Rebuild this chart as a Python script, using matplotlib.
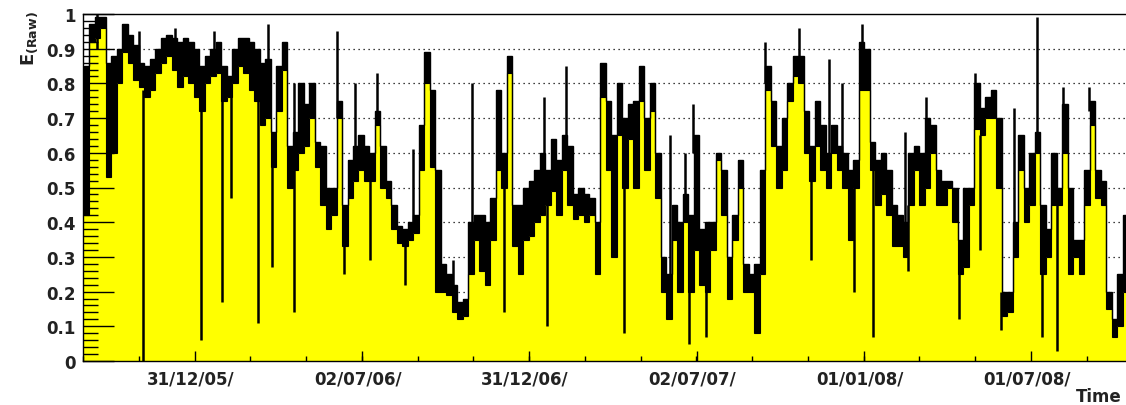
import datetime
import numpy as np
import matplotlib
matplotlib.use('Agg')
import matplotlib.pyplot as plt
import matplotlib.dates as mdates
import matplotlib.transforms as mtransforms

plt.rcParams['font.family'] = ['DejaVu Sans']
plt.rcParams['mathtext.fontset'] = 'dejavusans'

# 6-day bins starting 2005-09-01
start_date = datetime.date(2005, 9, 1)
bin_days = 6

# lower envelope of each bin (top of the yellow fill)
low = [
    0.42, 0.92, 0.93, 0.96, 0.53, 0.60, 0.80, 0.89, 0.86, 0.81,
    0.79, 0.76, 0.78, 0.83, 0.86, 0.88, 0.84, 0.79, 0.82, 0.80,
    0.76, 0.72, 0.80, 0.82, 0.83, 0.75, 0.76, 0.80, 0.85, 0.83,
    0.78, 0.75, 0.68, 0.70, 0.56, 0.72, 0.84, 0.50, 0.55, 0.60,
    0.62, 0.70, 0.56, 0.45, 0.38, 0.42, 0.70, 0.33, 0.47, 0.52,
    0.55, 0.52, 0.52, 0.68, 0.50, 0.47, 0.38, 0.34, 0.33, 0.35,
    0.37, 0.55, 0.80, 0.56, 0.20, 0.20, 0.19, 0.14, 0.12, 0.13,
    0.25, 0.35, 0.26, 0.22, 0.35, 0.55, 0.50, 0.83, 0.33, 0.25,
    0.35, 0.36, 0.40, 0.42, 0.45, 0.49, 0.42, 0.55, 0.45, 0.41,
    0.42, 0.40, 0.42, 0.25, 0.76, 0.55, 0.30, 0.65, 0.50, 0.64,
    0.50, 0.75, 0.55, 0.72, 0.47, 0.20, 0.12, 0.35, 0.20, 0.40,
    0.20, 0.32, 0.22, 0.20, 0.32, 0.58, 0.42, 0.18, 0.35, 0.50,
    0.20, 0.20, 0.08, 0.25, 0.78, 0.62, 0.50, 0.55, 0.75, 0.82,
    0.80, 0.60, 0.52, 0.62, 0.55, 0.50, 0.60, 0.55, 0.50, 0.35,
    0.50, 0.78, 0.78, 0.55, 0.45, 0.48, 0.42, 0.33, 0.33, 0.30,
    0.45, 0.55, 0.45, 0.50, 0.60, 0.45, 0.45, 0.50, 0.40, 0.25,
    0.27, 0.45, 0.67, 0.65, 0.70, 0.70, 0.50, 0.13, 0.14, 0.30,
    0.55, 0.40, 0.45, 0.60, 0.25, 0.30, 0.45, 0.45, 0.60, 0.25,
    0.30, 0.25, 0.45, 0.68, 0.47, 0.45, 0.15, 0.07, 0.10, 0.20,
]

# upper envelope of each bin (top of the black band)
high = [
    0.85, 0.97, 0.99, 0.99, 0.86, 0.88, 0.90, 0.97, 0.94, 0.91,
    0.86, 0.85, 0.87, 0.90, 0.93, 0.94, 0.93, 0.92, 0.93, 0.92,
    0.90, 0.85, 0.88, 0.90, 0.92, 0.85, 0.82, 0.90, 0.93, 0.93,
    0.92, 0.90, 0.86, 0.87, 0.66, 0.85, 0.92, 0.62, 0.66, 0.80,
    0.74, 0.80, 0.63, 0.62, 0.50, 0.50, 0.75, 0.45, 0.58, 0.62,
    0.65, 0.62, 0.60, 0.72, 0.62, 0.52, 0.45, 0.39, 0.38, 0.40,
    0.42, 0.68, 0.89, 0.78, 0.55, 0.28, 0.25, 0.22, 0.17, 0.18,
    0.40, 0.42, 0.42, 0.40, 0.47, 0.78, 0.60, 0.88, 0.45, 0.45,
    0.50, 0.52, 0.55, 0.60, 0.55, 0.64, 0.58, 0.65, 0.62, 0.48,
    0.50, 0.48, 0.47, 0.40, 0.86, 0.75, 0.65, 0.80, 0.70, 0.74,
    0.75, 0.85, 0.70, 0.80, 0.60, 0.30, 0.25, 0.45, 0.40, 0.48,
    0.42, 0.65, 0.38, 0.40, 0.40, 0.60, 0.55, 0.30, 0.42, 0.58,
    0.28, 0.25, 0.28, 0.55, 0.85, 0.75, 0.62, 0.70, 0.80, 0.88,
    0.88, 0.72, 0.62, 0.75, 0.68, 0.60, 0.68, 0.62, 0.60, 0.55,
    0.58, 0.92, 0.90, 0.63, 0.58, 0.60, 0.55, 0.45, 0.42, 0.40,
    0.60, 0.62, 0.60, 0.70, 0.68, 0.55, 0.52, 0.52, 0.50, 0.35,
    0.50, 0.50, 0.80, 0.73, 0.76, 0.78, 0.70, 0.20, 0.20, 0.40,
    0.65, 0.50, 0.60, 0.66, 0.45, 0.38, 0.60, 0.50, 0.74, 0.50,
    0.35, 0.35, 0.55, 0.75, 0.55, 0.52, 0.20, 0.12, 0.25, 0.42,
]

# single-day spikes and dips: date, bottom, top
spike_dates = [
    '2005-09-16', '2005-10-31', '2005-11-05', '2005-12-10', '2006-01-07',
    '2006-01-21', '2006-01-30', '2006-02-09', '2006-03-10', '2006-03-21',
    '2006-03-26', '2006-04-19', '2006-06-05', '2006-06-12', '2006-06-24',
    '2006-07-11', '2006-07-18', '2006-08-18', '2006-08-26', '2006-10-09',
    '2006-10-30', '2006-12-04', '2007-01-16', '2007-01-20', '2007-02-09',
    '2007-04-14', '2007-06-03', '2007-06-19', '2007-06-24', '2007-06-28',
    '2007-07-12', '2007-09-15', '2007-10-22', '2007-11-04', '2007-11-24',
    '2007-12-08', '2007-12-21', '2007-12-30', '2008-01-11', '2008-02-15',
    '2008-02-18', '2008-03-09', '2008-04-14', '2008-05-01', '2008-05-06',
    '2008-05-29', '2008-06-13', '2008-07-08', '2008-07-13', '2008-07-30',
    '2008-08-05', '2008-09-02',
]
spike_lo = [
    0.90, 0.85, 0.00, 0.88, 0.06, 0.85, 0.17, 0.47, 0.11, 0.80,
    0.27, 0.14, 0.70, 0.25, 0.60, 0.29, 0.70, 0.22, 0.38, 0.20,
    0.30, 0.14, 0.50, 0.10, 0.60, 0.08, 0.25, 0.45, 0.05, 0.60,
    0.07, 0.80, 0.85, 0.29, 0.60, 0.55, 0.20, 0.88, 0.07, 0.38,
    0.26, 0.65, 0.12, 0.78, 0.32, 0.09, 0.38, 0.65, 0.07, 0.03,
    0.74, 0.72,
]
spike_hi = [
    1.00, 0.95, 0.78, 0.96, 0.76, 0.95, 0.80, 0.80, 0.80, 0.97,
    0.56, 0.80, 0.95, 0.45, 0.80, 0.55, 0.83, 0.35, 0.61, 0.29,
    0.80, 0.60, 0.76, 0.55, 0.85, 0.70, 0.65, 0.60, 0.40, 0.74,
    0.30, 0.92, 0.96, 0.55, 0.87, 0.80, 0.50, 0.97, 0.60, 0.66,
    0.45, 0.76, 0.30, 0.83, 0.65, 0.20, 0.73, 0.99, 0.30, 0.45,
    0.79, 0.79,
]

major_dates = ['2005-12-31', '2006-07-02', '2006-12-31', '2007-07-02', '2008-01-01', '2008-07-01']
major_labels = ['31/12/05/', '02/07/06/', '31/12/06/', '02/07/07/', '01/01/08/', '01/07/08/']


def main():
    fig = plt.figure(figsize=(11.26, 4.06), dpi=100)
    ax = fig.add_axes([83 / 1126, 44 / 406, 1045 / 1126, 347 / 406])

    x0 = mdates.date2num(start_date)
    edges = x0 + bin_days * np.arange(len(low) + 1)
    low_a = np.array(low)
    high_a = np.array(high)

    # dotted horizontal grid, behind the histogram
    for yv in np.arange(0.1, 1.0, 0.1):
        ax.axhline(yv, color='black', lw=0.9, ls=(0, (1, 3)), zorder=0.5)

    ax.stairs(low_a, edges, baseline=0, fill=True, color='#ffff00', zorder=1.0)
    ax.stairs(high_a, edges, baseline=low_a, fill=True, color='black', zorder=1.1)
    ax.stairs(high_a, edges, baseline=None, color='black', lw=1.0, zorder=1.2)
    ax.stairs(low_a, edges, baseline=None, color='black', lw=0.8, zorder=1.2)
    ax.vlines(mdates.datestr2num(spike_dates), spike_lo, spike_hi,
              color='black', lw=1.8, zorder=1.3)

    ax.set_xlim(x0, x0 + 1140)
    ax.set_ylim(0, 1)

    majors = mdates.datestr2num(major_dates)
    step = np.mean(np.diff(majors)) / 3
    minors = np.arange(majors[0] - 2 * step, x0 + 1141, step)
    ax.set_xticks(majors)
    ax.set_xticklabels(major_labels)
    ax.set_xticks(minors, minor=True)
    ax.set_yticks(np.arange(0, 1.01, 0.1))
    ax.set_yticklabels(['0', '0.1', '0.2', '0.3', '0.4', '0.5', '0.6', '0.7', '0.8', '0.9', '1'])
    ax.set_yticks(np.arange(0, 1.001, 0.02), minor=True)

    ax.tick_params(axis='both', which='both', direction='in', width=1.0, color='black')
    ax.tick_params(axis='y', which='major', length=22, pad=5.5)
    ax.tick_params(axis='y', which='minor', length=11)
    ax.tick_params(axis='x', which='major', length=7, pad=6)
    ax.tick_params(axis='x', which='minor', length=3.6)
    shift = mtransforms.ScaledTranslation(-4 / 100, 0, fig.dpi_scale_trans)
    for lab in ax.get_xticklabels():
        lab.set_transform(lab.get_transform() + shift)
    for lab in ax.get_xticklabels() + ax.get_yticklabels():
        lab.set_fontsize(12)
        lab.set_fontweight('bold')
        lab.set_color('#222222')

    for sp in ax.spines.values():
        sp.set_linewidth(1.0)
        sp.set_zorder(5)

    ax.set_ylabel(r'$\mathbf{E}_{\mathbf{(Raw)}}$', fontsize=13, loc='top', color='#222222')
    ax.yaxis.set_label_coords(-0.041, 1.01)
    ax.set_xlabel('Time', fontsize=12, fontweight='bold', loc='right', color='#222222')
    ax.xaxis.set_label_coords(1039 / 1045, -0.075)

    fig.savefig('out.png', dpi=100)
    plt.close(fig)


if __name__ == '__main__':
    main()
